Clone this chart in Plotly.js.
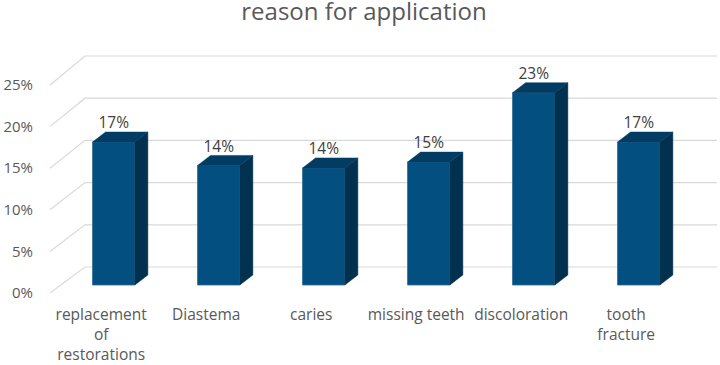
<!DOCTYPE html>
<html>
<head>
<meta charset="utf-8">
<script src="https://cdn.plot.ly/plotly-3.0.1.min.js"></script>
<style>html,body{margin:0;padding:0;background:#fff;}#chart{width:720px;height:365px;}</style>
</head>
<body>
<div id="chart"></div>
<script>
// ---- data ----
const categories = ['replacement<br>of<br>restorations', 'Diastema', 'caries', 'missing teeth', 'discoloration', 'tooth<br>fracture'];
const values = [0.171, 0.143, 0.140, 0.147, 0.230, 0.171];
const tickVals = [0, 0.05, 0.10, 0.15, 0.20, 0.25];
const tickText = ['0%', '5%', '10%', '15%', '20%', '25%'];

// ---- geometry (pixel layout of the pseudo-3D frame) ----
const W = 720, H = 365;
const L = 42, R = 718, T = 45, B = 293;
const catPx0 = 113.7, catStep = 105;
const pxToX = p => (p - catPx0) / catStep;
const kFront = 832, kBar = 836, kBack = 844;     // px per unit (fraction)
const zeroBar = 285, zeroBack = 267;
const pxToYFront = p => (B - p) / kFront;
const depthDx = 13 / catStep;                    // x units
const depthDy = 10 / kBar;                       // y2 units
const barW = 42.3 / catStep;
const labelShift = -12.5 / catStep;

const idx = values.map((_, i) => i);

// back-wall gridlines + left wall diagonals (on front axis)
const gx = [], gy = [];
tickVals.forEach(v => {
  const yb = pxToYFront(zeroBack - v * kBack);
  gx.push(pxToX(50), pxToX(85), pxToX(717), null);
  gy.push(v, yb, yb, null);
});

// side and top faces (bar plane axis y2)
const sx = [], sy = [], tx = [], ty = [];
idx.forEach(i => {
  const v = values[i];
  const xl = i - barW / 2, xr = i + barW / 2;
  sx.push(xr, xr, xr + depthDx, xr + depthDx, xr, null);
  sy.push(0, v, v + depthDy, depthDy, 0, null);
  tx.push(xl, xr, xr + depthDx, xl + depthDx, xl, null);
  ty.push(v, v, v + depthDy, v + depthDy, v, null);
});

const font = 'Open Sans, Liberation Sans, Arial, sans-serif';
const traces = [
  { type: 'scatter', mode: 'lines', x: gx, y: gy, xaxis: 'x', yaxis: 'y',
    line: { color: '#d9d9d9', width: 1.2 }, hoverinfo: 'skip', showlegend: false },
  { type: 'bar', x: idx, y: values, width: barW, xaxis: 'x', yaxis: 'y2',
    marker: { color: '#024f80', line: { color: '#2c6b98', width: 0.8 } }, showlegend: false },
  { type: 'scatter', mode: 'lines', x: sx, y: sy, xaxis: 'x', yaxis: 'y2', fill: 'toself',
    fillcolor: '#02304f', line: { color: '#02304f', width: 0.5 }, hoverinfo: 'skip', showlegend: false },
  { type: 'scatter', mode: 'lines', x: tx, y: ty, xaxis: 'x', yaxis: 'y2', fill: 'toself',
    fillcolor: '#033c62', line: { color: '#033c62', width: 0.5 }, hoverinfo: 'skip', showlegend: false },
  { type: 'scatter', mode: 'text', x: idx, y: values.map(v => v + depthDy), xaxis: 'x', yaxis: 'y2',
    text: values.map(v => Math.round(v * 100) + '%'), textposition: 'top center',
    textfont: { family: font, size: 15.5, color: '#404040' }, cliponaxis: false,
    hoverinfo: 'skip', showlegend: false }
];

const layout = {
  width: W, height: H,
  margin: { l: L, r: W - R, t: T, b: H - B, pad: 0 },
  paper_bgcolor: '#ffffff', plot_bgcolor: 'rgba(0,0,0,0)',
  showlegend: false,
  title: { text: 'reason for application', font: { family: font, size: 24, color: '#595959' },
    x: 364 / W, xref: 'container', xanchor: 'center', y: 1 - 3 / H, yref: 'container', yanchor: 'top' },
  xaxis: {
    range: [pxToX(L), pxToX(R)], showgrid: false, zeroline: false, showline: false,
    tickvals: idx.map(i => i + labelShift), ticktext: categories,
    ticks: 'outside', ticklen: 7, tickcolor: 'rgba(0,0,0,0)',
    tickfont: { family: font, size: 15.5, color: '#595959' }, fixedrange: true
  },
  yaxis: {
    range: [0, (B - T) / kFront], showgrid: false, zeroline: false, showline: false,
    tickvals: tickVals, ticktext: tickText,
    ticks: 'outside', ticklen: 5, tickcolor: 'rgba(0,0,0,0)',
    tickfont: { family: font, size: 15, color: '#595959' }, fixedrange: true
  },
  yaxis2: {
    overlaying: 'y', range: [(zeroBar - B) / kBar, (zeroBar - T) / kBar],
    showgrid: false, zeroline: false, showline: false, showticklabels: false, fixedrange: true
  }
};

Plotly.newPlot('chart', traces, layout, { displayModeBar: false, staticPlot: true });
</script>
</body>
</html>
